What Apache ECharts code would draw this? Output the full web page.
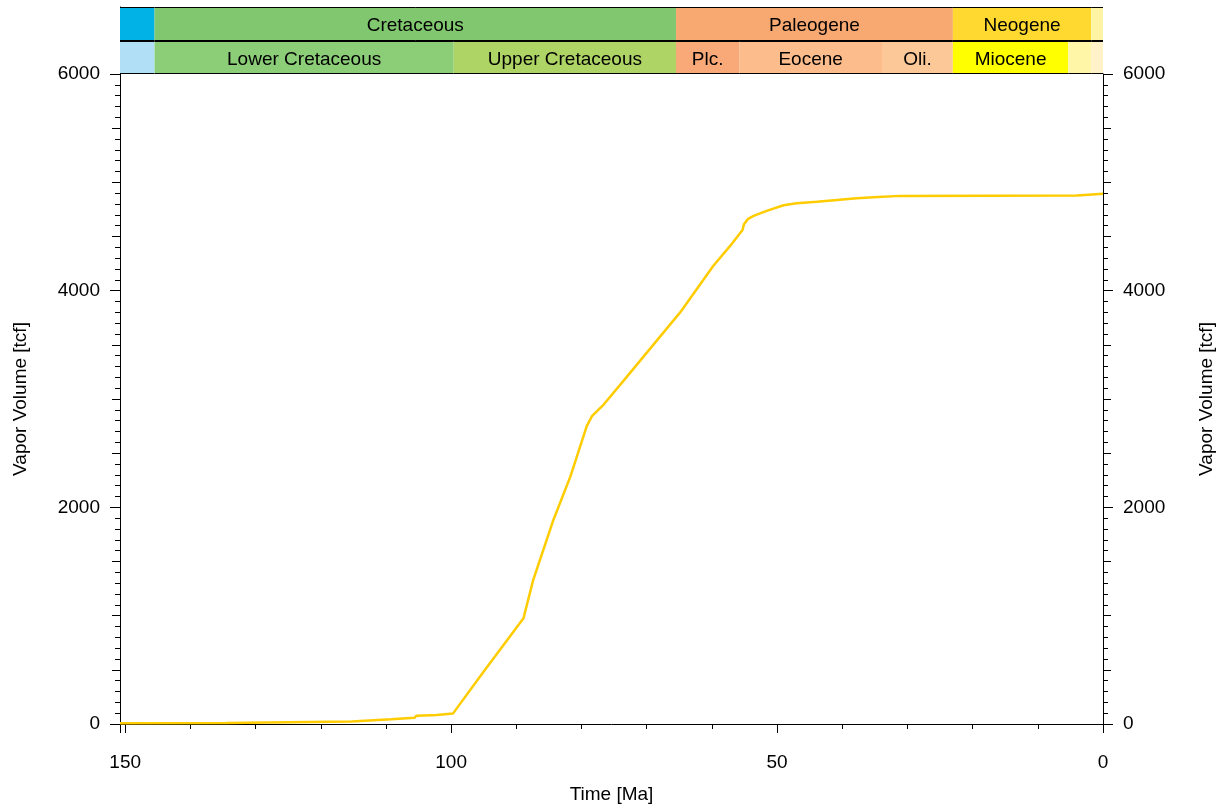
<!DOCTYPE html>
<html>
<head>
<meta charset="utf-8">
<title>Vapor Volume vs Time</title>
<script src="https://cdn.jsdelivr.net/npm/echarts@6/dist/echarts.min.js"></script>
<style>
    html, body { margin: 0; padding: 0; background: #fff; }
    #chart { width: 1231px; height: 809px; }
</style>
</head>
<body>
<div id="chart"></div>
<script>
// ============================================
// DATA
// ============================================

// Time axis runs from slightly beyond 150 Ma down to present
const timeMax = 150.8;

// Vapor volume history
const timeMa = [150.8, 134.5, 134.2, 115.3, 115.0, 109.2, 109.0, 105.6, 105.3, 102.2, 102.0, 99.7,
    95.0, 88.9, 87.4, 84.3, 81.7, 79.2, 78.4, 76.6, 73.6, 64.9, 59.8, 57.2, 55.3, 55.1, 54.5,
    53.6, 51.6, 49.0, 47.0, 43.9, 40.8, 37.8, 34.5, 31.1, 4.0, 3.9, 0];
const vaporVolume = [8, 10, 20, 24, 40, 44, 53, 58, 77, 82, 95, 98,
    484, 977, 1331, 1886, 2286, 2749, 2841, 2949, 3165, 3797, 4228, 4413, 4560, 4610, 4660,
    4690, 4736, 4789, 4807, 4820, 4838, 4853, 4865, 4875, 4878, 4894, 4894];

// Stratigraphic band: periods (top row)
const periodNames = ['', 'Cretaceous', 'Paleogene', 'Neogene', ''];
const periodBounds = [161.2, 145.5, 65.5, 23.03, 1.806, 0];
const periodColors = ['#00b2e6', '#80c76f', '#f8a972', '#ffd92f', '#fff4a3'];

// Stratigraphic band: epochs (bottom row)
const epochNames = ['', 'Lower Cretaceous', 'Upper Cretaceous', 'Plc.', 'Eocene', 'Oli.', 'Miocene', '', ''];
const epochBounds = [161.2, 145.5, 99.6, 65.5, 55.8, 33.9, 23.03, 5.332, 1.806, 0];
const epochColors = ['#b1e0f6', '#8ccd78', '#aed465', '#f9a878', '#fcbc8b', '#fdc898', '#ffff00', '#fff6a8', '#fff1c8'];

// Axis tick labels
const timeLabels = [150, 100, 50, 0];
const volumeLabels = [0, 2000, 4000, 6000];

// ============================================
// CHART
// ============================================

const FONT = "'Liberation Sans', Arial, sans-serif";
const chart = echarts.init(document.getElementById('chart'));

// Band cells: [start, end, row, name, color]
const bandCells = [];
periodNames.forEach((name, i) => {
    bandCells.push([periodBounds[i], periodBounds[i + 1], 1, name, periodColors[i]]);
});
epochNames.forEach((name, i) => {
    bandCells.push([epochBounds[i], epochBounds[i + 1], 0, name, epochColors[i]]);
});

function renderBandCell(params, api) {
    const cell = bandCells[params.dataIndex];
    const start = Math.min(cell[0], timeMax);
    const p0 = api.coord([start, cell[2] + 1]);
    const p1 = api.coord([cell[1], cell[2]]);
    const x0 = Math.min(p0[0], p1[0]);
    const x1 = Math.max(p0[0], p1[0]);
    const y0 = Math.round(p0[1]) + 0.5;
    const y1 = Math.round(p1[1]) - 0.5;

    return {
        type: 'group',
        children: [
            {
                type: 'rect',
                shape: { x: x0, y: y0, width: x1 - x0, height: y1 - y0 },
                style: { fill: cell[4] },
                textContent: {
                    style: {
                        text: cell[3],
                        fill: '#000',
                        font: '19px ' + FONT
                    }
                },
                textConfig: { position: 'inside', offset: [0, 2] }
            },
            {
                type: 'line',
                shape: { x1: x0, y1: y0, x2: x1, y2: y0 },
                style: { stroke: '#000', lineWidth: 1 }
            },
            {
                type: 'line',
                shape: { x1: x0, y1: y1, x2: x1, y2: y1 },
                style: { stroke: '#000', lineWidth: 1 }
            }
        ]
    };
}

const axisLineStyle = { show: true, onZero: false, lineStyle: { color: '#000', width: 1 } };
const labelStyle = { color: '#000', fontSize: 19, fontFamily: FONT };
const plotRect = { left: 120, top: 74, width: 983, height: 650 };

function volumeAxis(gridIndex, position, nameGap) {
    return {
        type: 'value',
        gridIndex: gridIndex,
        position: position,
        min: 0,
        max: 6000,
        interval: 2000,
        name: 'Vapor Volume [tcf]',
        nameLocation: 'middle',
        nameGap: nameGap,
        nameTextStyle: labelStyle,
        axisLine: axisLineStyle,
        axisTick: { show: true, inside: false, length: 10, lineStyle: { color: '#000' } },
        minorTick: { show: true, splitNumber: 20, length: 5, lineStyle: { color: '#000' } },
        axisLabel: {
            ...labelStyle,
            margin: 20,
            padding: [4, 0, 0, 0],
            formatter: v => (volumeLabels.includes(v) ? String(v) : '')
        },
        splitLine: { show: false }
    };
}

function volumeMidAxis(gridIndex, position) {
    return {
        type: 'value',
        gridIndex: gridIndex,
        position: position,
        min: 0,
        max: 6000,
        interval: 500,
        axisLine: { show: false, onZero: false },
        axisTick: { show: true, inside: false, length: 8, lineStyle: { color: '#000' } },
        axisLabel: { show: false },
        splitLine: { show: false }
    };
}

function hiddenTimeAxis(gridIndex) {
    return { type: 'value', gridIndex: gridIndex, inverse: true, min: 0, max: timeMax, show: false };
}

const option = {
    backgroundColor: '#fff',
    animation: false,
    grid: [
        plotRect,
        { left: 120, top: 7, width: 983, height: 67 },
        plotRect,
        plotRect,
        plotRect
    ],
    xAxis: [
        {
            type: 'value',
            gridIndex: 0,
            position: 'bottom',
            inverse: true,
            min: 0,
            max: timeMax,
            interval: 10,
            name: 'Time [Ma]',
            nameLocation: 'middle',
            nameGap: 61,
            nameTextStyle: labelStyle,
            axisLine: axisLineStyle,
            axisTick: { show: true, inside: false, length: 5, lineStyle: { color: '#000' } },
            axisLabel: {
                ...labelStyle,
                margin: 29,
                formatter: v => (timeLabels.includes(v) ? String(v) : '')
            },
            splitLine: { show: false }
        },
        hiddenTimeAxis(1),
        {
            type: 'value',
            gridIndex: 2,
            position: 'bottom',
            inverse: true,
            min: 0,
            max: timeMax,
            interval: 50,
            axisLine: { show: false, onZero: false },
            axisTick: { show: true, inside: false, length: 9, lineStyle: { color: '#000' } },
            axisLabel: { show: false },
            splitLine: { show: false }
        },
        hiddenTimeAxis(3),
        hiddenTimeAxis(4)
    ],
    yAxis: [
        volumeAxis(0, 'left', 90),
        {
            type: 'value',
            gridIndex: 1,
            position: 'left',
            min: 0,
            max: 2,
            axisLine: axisLineStyle,
            axisTick: { show: false },
            axisLabel: { show: false },
            splitLine: { show: false }
        },
        volumeAxis(2, 'right', 94),
        volumeMidAxis(3, 'left'),
        volumeMidAxis(4, 'right')
    ],
    series: [
        {
            type: 'custom',
            xAxisIndex: 1,
            yAxisIndex: 1,
            clip: true,
            renderItem: renderBandCell,
            data: bandCells.map(c => [c[0], c[1], c[2]]),
            z: 1
        },
        {
            name: 'Vapor Volume',
            type: 'line',
            xAxisIndex: 0,
            yAxisIndex: 0,
            data: timeMa.map((t, i) => [t, vaporVolume[i]]),
            showSymbol: false,
            lineStyle: { color: '#ffcc00', width: 2.5 },
            z: 3
        }
    ]
};

chart.setOption(option);
</script>
</body>
</html>
